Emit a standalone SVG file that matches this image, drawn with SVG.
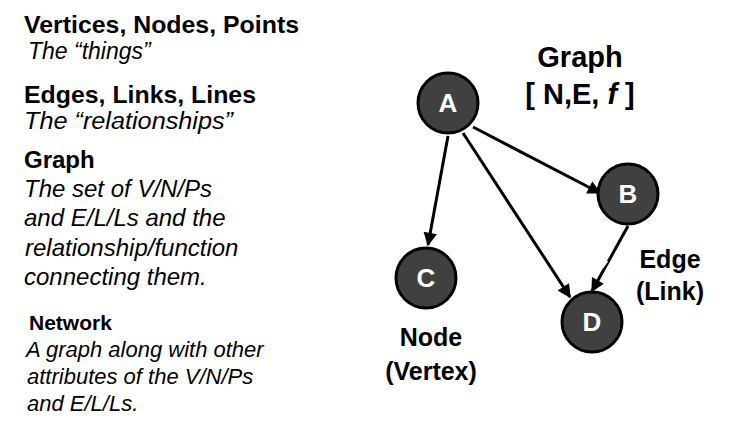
<svg xmlns="http://www.w3.org/2000/svg" width="732" height="431" viewBox="0 0 732 431">
<style>
text{font-family:"Liberation Sans",Arial,sans-serif;fill:#000}
.h{font-weight:bold;font-size:24px}
.i{font-style:italic;font-size:24px}
.i2{font-style:italic;font-size:23px}
.hs{font-weight:bold;font-size:21px}
.is{font-style:italic;font-size:22px}
.lbl{font-weight:bold;font-size:25px;text-anchor:middle}
.ttl{font-weight:bold;font-size:29px;text-anchor:middle}
.node circle{fill:#404040;stroke:#000;stroke-width:3}
.node text{fill:#fff;font-weight:bold;font-size:26px;text-anchor:middle}
.edge{stroke:#000;stroke-width:3;fill:none;marker-end:url(#arr)}
</style>
<defs>
<marker id="arr" viewBox="0 0 10 10" refX="9" refY="5" markerWidth="5" markerHeight="4.5" orient="auto" markerUnits="strokeWidth">
<path d="M0,0 L10,5 L0,10 z" fill="#000"/>
</marker>
</defs>
<rect width="732" height="431" fill="#fff"/>
<g id="legend">
<text class="h" x="24" y="33" textLength="275" lengthAdjust="spacingAndGlyphs">Vertices, Nodes, Points</text>
<text class="i2" x="28" y="59">The “things”</text>
<text class="h" x="24" y="103" textLength="232" lengthAdjust="spacingAndGlyphs">Edges, Links, Lines</text>
<text class="i2" x="24" y="129" textLength="209" lengthAdjust="spacingAndGlyphs">The “relationships”</text>
<text class="h" x="24" y="168">Graph</text>
<text class="i" x="24" y="197">The set of V/N/Ps</text>
<text class="i" x="24" y="226">and E/L/Ls and the</text>
<text class="i" x="25" y="256">relationship/function</text>
<text class="i" x="24" y="285">connecting them.</text>
<text class="hs" x="29" y="330">Network</text>
<text class="is" x="26" y="357">A graph along with other</text>
<text class="is" x="27" y="384">attributes of the V/N/Ps</text>
<text class="is" x="27" y="411">and E/L/Ls.</text>
</g>
<g id="graph-label">
<text class="ttl" x="580" y="67">Graph</text>
<text class="ttl" x="580" y="104">[ N,E, <tspan font-style="italic">f</tspan> ]</text>
</g>
<g id="connectors">
<line class="edge" x1="448" y1="136" x2="428" y2="245"/>
<line class="edge" x1="473" y1="127" x2="600" y2="193"/>
<line class="edge" x1="463" y1="133" x2="570" y2="297"/>
<line class="edge" x1="628" y1="226" x2="592" y2="291"/>
<line x1="601" y1="267" x2="606" y2="260" stroke="#fff" stroke-width="5"/>
</g>
<g id="node-A" class="node"><circle cx="448" cy="103" r="30"/><text x="448" y="112">A</text></g>
<g id="node-B" class="node"><circle cx="628" cy="194" r="30"/><text x="628" y="203">B</text></g>
<g id="node-C" class="node"><circle cx="426" cy="278" r="30"/><text x="426" y="287">C</text></g>
<g id="node-D" class="node"><circle cx="592" cy="322" r="30"/><text x="592" y="331">D</text></g>
<g id="edge-label">
<text class="lbl" x="670" y="268">Edge</text>
<text class="lbl" x="670" y="300">(Link)</text>
</g>
<g id="node-label">
<text class="lbl" x="431" y="346">Node</text>
<text class="lbl" x="431" y="380">(Vertex)</text>
</g>
</svg>
